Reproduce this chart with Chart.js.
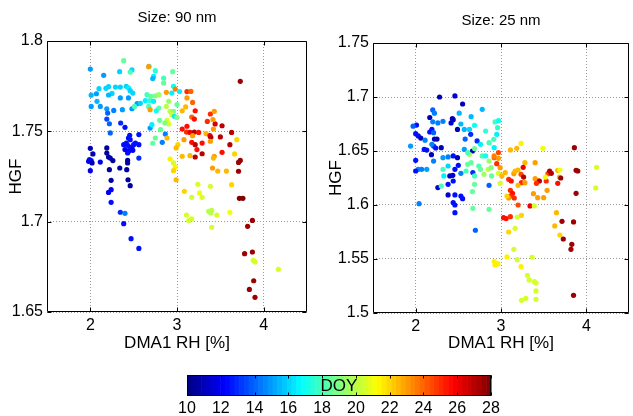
<!DOCTYPE html>
<html>
<head>
<meta charset="utf-8">
<script src="https://cdn.jsdelivr.net/npm/chart.js@4.4.1/dist/chart.umd.min.js"></script>
<style>
body { margin: 0; background: #fff; width: 633px; height: 416px; position: relative; overflow: hidden; }
canvas { position: absolute; }
</style>
</head>
<body>
<canvas id="g90" width="316" height="360" style="left:0;top:0"></canvas>
<canvas id="g25" width="313" height="360" style="left:320px;top:0"></canvas>
<canvas id="cbar" width="340" height="56" style="left:170px;top:360px"></canvas>
<script>
// ---- data ----
const xTicks = [2, 3, 4];
const yTicks90 = [1.65, 1.7, 1.75, 1.8];
const yTicks25 = [1.5, 1.55, 1.6, 1.65, 1.7, 1.75];
const doyTicks = [10, 12, 14, 16, 18, 20, 22, 24, 26, 28];

// Size: 90 nm
const x90 = [
  2.00, 2.154, 2.385, 2.338, 2.48, 2.46, 2.677, 2.673, 2.75, 2.73, 2.72, 2.846, 2.846, 2.95, 2.96, 2.98, 2.877, 3.03, 2.94, 3.115,
  3.16, 3.115, 3.18, 2.01, 2.07, 2.10, 2.18, 2.21, 2.25, 2.21, 2.01, 2.115, 2.077, 2.29, 2.346, 2.415, 2.44, 2.46, 2.49, 2.44,
  2.346, 2.27, 2.19, 2.20, 2.37, 2.48, 2.54, 2.577, 2.635, 2.685, 2.51, 2.19, 2.22, 2.23, 2.654, 2.70, 2.75, 2.79, 2.73, 2.673,
  2.69, 2.79, 2.76, 2.877, 2.904, 2.92, 2.96, 3.00, 2.94, 2.97, 3.00, 2.885, 2.904, 2.86, 2.80, 2.69, 2.71, 2.81, 2.75, 2.72,
  2.83, 2.865, 2.885, 2.00, 2.03, 1.99, 2.01, 1.98, 2.02, 2.00, 2.115, 2.19, 2.19, 2.21, 2.23, 2.26, 2.22, 2.24, 2.21, 2.24,
  2.24, 2.34, 2.40, 2.35, 2.43, 2.43, 2.435, 2.46, 2.42, 2.454, 2.44, 2.46, 2.415, 2.43, 2.454, 2.48, 2.50, 2.47, 2.44, 2.43,
  2.49, 2.385, 2.40, 2.52, 2.56, 2.56, 2.56, 2.346, 2.40, 2.385, 2.47, 2.56, 3.73, 3.06, 3.10, 3.21, 3.17, 3.20, 3.115, 3.06,
  3.11, 3.15, 3.20, 3.18, 3.25, 3.17, 3.21, 3.23, 3.29, 3.08, 3.01, 2.99, 3.06, 3.15, 3.21, 3.29, 3.385, 3.43, 3.44, 3.415,
  3.35, 3.335, 3.38, 3.39, 3.385, 3.50, 3.52, 3.42, 3.63, 3.69, 3.61, 3.52, 3.43, 3.42, 3.41, 3.47, 3.57, 3.665, 3.71, 3.73,
  3.71, 3.63, 3.72, 3.76, 2.92, 2.96, 2.98, 2.96, 2.99, 3.085, 3.24, 3.17, 3.26, 3.29, 3.385, 3.365, 3.39, 3.40, 3.46, 3.11,
  3.135, 3.17, 3.40, 3.61, 3.87, 3.815, 3.78, 3.87, 3.88, 3.90, 4.17, 3.885, 3.835, 3.90
];
const y90 = [
  1.7845, 1.781, 1.7891, 1.783, 1.7841, 1.7828, 1.786, 1.7858, 1.7836, 1.7804, 1.7792, 1.7795, 1.7768, 1.783, 1.7749, 1.7734, 1.7716, 1.772, 1.7712, 1.772,
  1.7721, 1.7685, 1.766, 1.770, 1.7708, 1.7736, 1.7738, 1.7747, 1.771, 1.7701, 1.7638, 1.7638, 1.7666, 1.7745, 1.7745, 1.7749, 1.774, 1.7725, 1.7712, 1.7685,
  1.7685, 1.7616, 1.7625, 1.7601, 1.762, 1.7625, 1.7653, 1.7655, 1.767, 1.767, 1.7638, 1.7568, 1.7542, 1.7491, 1.7703, 1.7694, 1.7697, 1.7703, 1.7666, 1.7638,
  1.762, 1.7629, 1.7614, 1.7638, 1.7666, 1.7611, 1.7611, 1.7648, 1.7592, 1.7583, 1.7577, 1.7561, 1.7541, 1.7546, 1.7561, 1.7518, 1.7537, 1.7509, 1.7463, 1.7434,
  1.7439, 1.7485, 1.7463, 1.7406, 1.7375, 1.7343, 1.7338, 1.7334, 1.7325, 1.7282, 1.733, 1.7408, 1.738, 1.7358, 1.7352, 1.7338, 1.7288, 1.7229, 1.7162, 1.7177,
  1.7107, 1.7297, 1.7522, 1.7546, 1.734, 1.7325, 1.7232, 1.7199, 1.7288, 1.7478, 1.7463, 1.7454, 1.7435, 1.7423, 1.7413, 1.7408, 1.7426, 1.7399, 1.7389, 1.738,
  1.7395, 1.7426, 1.7399, 1.7435, 1.7482, 1.7426, 1.7352, 1.7052, 1.7046, 1.6989, 1.6906, 1.6852, 1.7777, 1.7614, 1.7635, 1.7614, 1.7579, 1.7568, 1.7528, 1.7513,
  1.7496, 1.7494, 1.7496, 1.7476, 1.7494, 1.7439, 1.7426, 1.7399, 1.7435, 1.7454, 1.7426, 1.7408, 1.7362, 1.7365, 1.7358, 1.7376, 1.7596, 1.7611, 1.7541, 1.7565,
  1.7555, 1.7487, 1.7476, 1.7467, 1.7445, 1.7469, 1.7531, 1.7513, 1.7494, 1.7454, 1.7426, 1.7384, 1.7362, 1.7352, 1.7297, 1.728, 1.728, 1.7375, 1.7328, 1.7339,
  1.7279, 1.7205, 1.7129, 1.7129, 1.7347, 1.7325, 1.7303, 1.7282, 1.7232, 1.7168, 1.7207, 1.7135, 1.7159, 1.7135, 1.7196, 1.7057, 1.7048, 1.7063, 1.7037, 1.7037,
  1.7006, 1.7015, 1.6969, 1.7052, 1.7007, 1.6974, 1.6823, 1.6832, 1.6786, 1.6777, 1.6736, 1.6673, 1.6625, 1.6581
];
const doy90 = [
  15, 15, 18.5, 16, 16, 18, 16.5, 23, 17.5, 16.5, 15.5, 18, 18.5, 18.5, 17, 23.5, 23, 16.5, 16.5, 25,
  24, 23, 24, 15.5, 15, 16, 16, 16, 16, 15.5, 15, 15, 15.5, 16, 16, 16, 16.5, 16, 16, 15,
  15, 14.5, 15, 14, 15, 15, 15, 16, 16.5, 17.5, 18, 13.5, 14, 14, 18, 18.5, 19, 19.5, 16.5, 18,
  23, 18.5, 17, 20, 19.5, 20, 19, 18.5, 20.5, 16.5, 19, 20.5, 20.5, 19, 18.5, 15, 16.5, 18.5, 18.5, 18.5,
  14.5, 14.5, 22.5, 11, 11, 12.5, 12.5, 12, 11, 12, 12, 10.5, 10.5, 10.5, 11, 10.5, 10.5, 10.5, 12, 12,
  12.5, 10.5, 12.5, 13, 10.5, 10.5, 10.5, 10.5, 10.5, 12.5, 12.5, 12.5, 12.5, 12.5, 12.5, 12, 12.5, 12.5, 12, 12.5,
  12, 12.5, 12, 12.5, 12.5, 12.5, 13, 13, 14.5, 12.5, 12.5, 12.5, 27.5, 22.5, 22.5, 25.5, 24, 25.5, 25.5, 25.5,
  25, 26, 27, 23, 25.5, 25.5, 27, 25.5, 25.5, 23, 22, 22.5, 22.5, 22.5, 27, 27, 25, 23, 26.5, 23,
  25, 22.5, 26, 27, 23, 27, 27, 23, 27, 22, 27, 25.5, 23, 22.5, 23, 22.5, 22.5, 22, 27.5, 27.5,
  27.5, 22, 28, 28, 21.5, 20.5, 21.5, 22, 22.5, 22, 20.5, 20.5, 21, 20.5, 20.5, 20, 20, 20, 20.5, 20.5,
  20.5, 20.5, 20.5, 21, 27.5, 27.5, 27.5, 27.5, 20.5, 20.5, 20.5, 27.5, 27.5, 27.5
];

// Size: 25 nm
const x25 = [
  2.28, 2.46, 2.55, 2.20, 2.22, 2.165, 2.43, 2.44, 2.415, 2.01, 1.97, 2.20, 2.26, 2.32, 2.19, 2.165, 2.21, 2.00, 2.03, 2.06,
  2.11, 2.22, 2.25, 2.21, 2.19, 2.235, 2.30, 2.49, 2.58, 2.645, 2.665, 2.72, 1.94, 2.10, 2.13, 2.185, 2.00, 2.03, 2.00, 2.07,
  2.13, 2.21, 2.32, 2.38, 2.44, 2.49, 2.50, 2.46, 2.40, 2.435, 2.53, 2.44, 2.38, 2.26, 2.38, 2.46, 2.44, 2.46, 2.46, 2.53,
  2.55, 2.04, 2.70, 2.67, 2.78, 2.65, 2.51, 2.53, 2.57, 2.63, 2.69, 2.82, 2.93, 2.97, 2.96, 2.95, 2.915, 2.86, 2.76, 2.92,
  2.69, 2.63, 2.57, 2.61, 2.65, 2.61, 2.59, 2.32, 2.33, 2.30, 2.38, 2.69, 2.69, 2.665, 2.74, 2.76, 2.80, 2.86, 2.85, 2.89,
  2.885, 2.97, 2.99, 2.86, 2.67, 2.86, 2.78, 2.82, 2.99, 2.92, 2.97, 2.95, 2.97, 2.92, 3.11, 3.185, 3.235, 3.28, 3.40, 3.49,
  3.01, 3.05, 3.09, 3.12, 3.15, 3.165, 3.20, 3.235, 3.265, 3.24, 3.20, 3.28, 3.11, 3.135, 3.11, 3.155, 3.09, 3.07, 3.26, 3.40,
  3.43, 3.45, 3.415, 3.38, 3.43, 3.50, 3.53, 3.55, 3.54, 3.57, 3.59, 3.665, 3.685, 3.70, 3.665, 3.69, 3.52, 3.88, 3.90, 3.86,
  3.88, 4.12, 4.11, 3.34, 3.39, 3.20, 3.03, 3.06, 3.11, 3.19, 3.24, 3.09, 3.165, 3.15, 3.07, 3.19, 3.235, 3.365, 3.31, 3.33,
  3.39, 3.41, 3.41, 3.41, 3.24, 3.29, 2.92, 2.93, 2.965, 3.65, 3.63, 3.69, 3.715, 3.73, 3.85, 3.83, 3.82, 3.85
];
const y25 = [
  1.700, 1.701, 1.6935, 1.688, 1.685, 1.681, 1.680, 1.679, 1.676, 1.674, 1.673, 1.677, 1.676, 1.6775, 1.670, 1.6676, 1.667, 1.666, 1.664, 1.662,
  1.660, 1.661, 1.661, 1.6546, 1.6562, 1.6528, 1.6531, 1.670, 1.661, 1.6654, 1.650, 1.6593, 1.6546, 1.6515, 1.6509, 1.6466, 1.6414, 1.633, 1.6315, 1.633,
  1.633, 1.6407, 1.6438, 1.6445, 1.6454, 1.6438, 1.6367, 1.633, 1.6269, 1.6275, 1.6293, 1.6222, 1.6191, 1.6161, 1.6093, 1.6093, 1.6022, 1.600, 1.5929, 1.6083,
  1.6059, 1.6012, 1.5766, 1.630, 1.6886, 1.6818, 1.685, 1.675, 1.670, 1.670, 1.6738, 1.6685, 1.6769, 1.6781, 1.6716, 1.6654, 1.6608, 1.6577, 1.6562, 1.6531,
  1.6522, 1.6469, 1.6515, 1.6485, 1.6392, 1.6377, 1.6315, 1.633, 1.6269, 1.6176, 1.6361, 1.6269, 1.6191, 1.6124, 1.6361, 1.633, 1.6284, 1.6407, 1.633, 1.6269,
  1.6346, 1.6293, 1.6201, 1.6182, 1.5969, 1.596, 1.6454, 1.6454, 1.6346, 1.6438, 1.6432, 1.6383, 1.6485, 1.6454, 1.651, 1.6525, 1.657, 1.6392, 1.6392, 1.6525,
  1.6269, 1.630, 1.6238, 1.6222, 1.629, 1.6315, 1.6324, 1.6284, 1.6259, 1.6207, 1.6182, 1.6207, 1.6136, 1.6108, 1.6083, 1.6065, 1.6065, 1.6083, 1.6349, 1.6244,
  1.6229, 1.6222, 1.6201, 1.6105, 1.6068, 1.6068, 1.6222, 1.629, 1.6136, 1.6315, 1.6293, 1.6321, 1.6259, 1.625, 1.6201, 1.6324, 1.6259, 1.6321, 1.6315, 1.6531,
  1.6108, 1.6349, 1.6158, 1.5991, 1.5991, 1.600, 1.5883, 1.5874, 1.5892, 1.5889, 1.5904, 1.575, 1.5784, 1.559, 1.5519, 1.5494, 1.5429, 1.5516, 1.5349, 1.5306,
  1.529, 1.5278, 1.5204, 1.5127, 1.5118, 1.5136, 1.5476, 1.5445, 1.5457, 1.5929, 1.5806, 1.5722, 1.5849, 1.5685, 1.5843, 1.5636, 1.559, 1.5164
];
const doy25 = [
  11, 11.5, 11, 14, 14.5, 11, 11, 11, 11.5, 12.5, 14, 14.5, 14.5, 14.5, 12.5, 12.5, 14, 12.5, 12.5, 11,
  14.5, 11, 11, 13, 14.5, 12.5, 11, 11, 14, 13, 11, 13, 15, 12.5, 12.5, 11, 12.5, 14.5, 12.5, 14.5,
  15, 14.5, 15, 14.5, 12.5, 11, 12.5, 12.5, 11, 11.5, 14.5, 12.5, 12.5, 11.5, 11.5, 12.5, 12.5, 12.5, 12.5, 12.5,
  12.5, 14.5, 14, 13, 15.5, 15.5, 15.5, 15.5, 15.5, 16, 17, 17.5, 18, 17, 17.5, 16.5, 18, 18, 16.5, 16.5,
  18.5, 19.5, 15, 18, 18.5, 18.5, 18, 18, 16.5, 18, 16, 18, 18.5, 18.5, 18, 18.5, 19.5, 19.5, 20, 18.5,
  19, 20.5, 20.5, 14, 18.5, 18.5, 18, 17, 23, 24, 23, 25, 24.5, 23.5, 22.5, 22.5, 21.5, 22.5, 23, 21,
  22.5, 22.5, 25, 25.5, 23, 22.5, 22.5, 24.5, 27, 25, 22.5, 23, 25, 25.5, 25, 25, 23, 22, 26, 23,
  23, 27, 25, 23, 23, 23, 25, 24.5, 23, 27, 27, 22.5, 22.5, 27.5, 25.5, 21, 21, 27.5, 27.5, 27.5,
  27.5, 20.5, 20.5, 26, 20.5, 24.5, 25.5, 25.5, 25, 20.5, 22, 22, 20.5, 20.5, 21.5, 20.5, 21.5, 20.5, 20.5, 20.5,
  20.5, 20.5, 20.5, 20.5, 20.5, 20.5, 21.5, 21.5, 21.5, 22.5, 22.5, 22, 27.5, 27.5, 27.5, 27.5, 27.5, 27.5
];

const doyMin = 10, doyMax = 28;

// matlab jet colormap
function jet(v) {
  const t = Math.max(0, Math.min(1, (v - doyMin) / (doyMax - doyMin)));
  const c = f => Math.round(255 * Math.max(0, Math.min(1, f)));
  return 'rgb(' + c(1.5 - Math.abs(4 * t - 3)) + ',' + c(1.5 - Math.abs(4 * t - 2)) + ',' + c(1.5 - Math.abs(4 * t - 1)) + ')';
}

Chart.defaults.font.family = '"Liberation Sans", Arial, sans-serif';
Chart.defaults.color = '#000';

// black box with inward ticks on all four sides
const boxPlugin = {
  id: 'box',
  afterDatasetsDraw(chart) {
    const { ctx, chartArea: a, scales: { x, y } } = chart;
    const L = Math.round(a.left) + 0.5, R = Math.round(a.right) - 0.5;
    const T = Math.round(a.top) + 0.5, B = Math.round(a.bottom) - 0.5;
    ctx.save();
    ctx.strokeStyle = '#000';
    ctx.lineWidth = 1;
    ctx.beginPath();
    x.ticks.forEach(t => {
      const p = Math.round(x.getPixelForValue(t.value)) + 0.5;
      ctx.moveTo(p, B); ctx.lineTo(p, B - 4);
      ctx.moveTo(p, T); ctx.lineTo(p, T + 4);
    });
    y.ticks.forEach(t => {
      const p = Math.round(y.getPixelForValue(t.value)) + 0.5;
      ctx.moveTo(L, p); ctx.lineTo(L + 4, p);
      ctx.moveTo(R, p); ctx.lineTo(R - 4, p);
    });
    ctx.rect(L, T, R - L, B - T);
    ctx.stroke();
    ctx.restore();
  }
};

function makePanel(id, title, xs, ys, doys, yMin, yMax, yTicks, lay) {
  const pts = xs.map((v, i) => ({ x: v, y: ys[i] }));
  return new Chart(document.getElementById(id), {
    type: 'scatter',
    data: {
      datasets: [{
        data: pts,
        pointRadius: 2.6,
        pointBorderWidth: 0,
        pointBackgroundColor: doys.map(jet)
      }]
    },
    options: {
      responsive: false,
      animation: false,
      layout: { padding: { right: lay.right, left: 0, top: 0, bottom: 0 } },
      plugins: {
        legend: { display: false },
        tooltip: { enabled: false },
        title: {
          display: true,
          fullSize: false,
          text: title,
          font: { size: 15, weight: 'normal' },
          padding: { top: lay.titleTop, bottom: lay.titleBottom }
        }
      },
      scales: {
        x: {
          type: 'linear',
          min: 1.5,
          max: 4.5,
          afterBuildTicks: s => { s.ticks = xTicks.map(v => ({ value: v })); },
          afterFit: s => { s.height = lay.xh; },
          ticks: { font: { size: 16 }, padding: 4, callback: v => String(v) },
          grid: { color: '#9a9a9a', drawTicks: false },
          border: { display: false, dash: [1, 2] },
          title: { display: true, text: 'DMA1 RH [%]', font: { size: 17 }, padding: { top: 0, bottom: 6 } }
        },
        y: {
          type: 'linear',
          min: yMin,
          max: yMax,
          afterBuildTicks: s => { s.ticks = yTicks.map(v => ({ value: v })); },
          afterFit: s => { s.width = lay.yw; },
          ticks: { font: { size: 16 }, padding: 4, callback: v => String(v) },
          grid: { color: '#9a9a9a', drawTicks: false },
          border: { display: false, dash: [1, 2] },
          title: { display: true, text: 'HGF', font: { size: 17 }, padding: { top: 6, bottom: 0 } }
        }
      }
    },
    plugins: [boxPlugin]
  });
}

makePanel('g90', 'Size: 90 nm', x90, y90, doy90, 1.65, 1.8, yTicks90,
  { right: 9, yw: 47, xh: 48, titleTop: 8.5, titleBottom: 14.5 });
makePanel('g25', 'Size: 25 nm', x25, y25, doy25, 1.5, 1.75, yTicks25,
  { right: 1, yw: 53, xh: 47, titleTop: 11.5, titleBottom: 13.5 });

// colorbar
const cbarPlugin = {
  id: 'cbar',
  beforeDatasetsDraw(chart) {
    const { ctx, chartArea: a, scales: { x } } = chart;
    const n = 64;
    ctx.save();
    for (let i = 0; i < n; i++) {
      const v0 = doyMin + (doyMax - doyMin) * i / n;
      const v1 = doyMin + (doyMax - doyMin) * (i + 1) / n;
      const p0 = x.getPixelForValue(v0), p1 = x.getPixelForValue(v1);
      ctx.fillStyle = jet((v0 + v1) / 2);
      ctx.fillRect(p0, a.top, p1 - p0 + 0.6, a.bottom - a.top);
    }
    const L = Math.round(a.left) + 0.5, R = Math.round(a.right) - 0.5;
    const T = Math.round(a.top) + 0.5, B = Math.round(a.bottom) - 0.5;
    ctx.strokeStyle = '#000';
    ctx.lineWidth = 1;
    ctx.beginPath();
    x.ticks.forEach(t => {
      const p = Math.round(x.getPixelForValue(t.value)) + 0.5;
      ctx.moveTo(p, B); ctx.lineTo(p, B - 3);
      ctx.moveTo(p, T); ctx.lineTo(p, T + 3);
    });
    ctx.rect(L, T, R - L, B - T);
    ctx.stroke();
    ctx.fillStyle = '#000';
    ctx.font = '17px "Liberation Sans", Arial, sans-serif';
    ctx.textAlign = 'center';
    ctx.textBaseline = 'middle';
    ctx.fillText('DOY', (a.left + a.right) / 2, (a.top + a.bottom) / 2 + 1);
    ctx.restore();
  }
};

new Chart(document.getElementById('cbar'), {
  type: 'scatter',
  data: { datasets: [{ data: [] }] },
  options: {
    responsive: false,
    animation: false,
    layout: { padding: { top: 15, left: 17, right: 19, bottom: 0 } },
    plugins: { legend: { display: false }, tooltip: { enabled: false } },
    scales: {
      x: {
        type: 'linear',
        min: doyMin,
        max: doyMax,
        afterBuildTicks: s => { s.ticks = doyTicks.map(v => ({ value: v })); },
        afterFit: s => { s.height = 20; },
        ticks: { font: { size: 16 }, padding: 3 },
        grid: { display: false, drawTicks: false },
        border: { display: false }
      },
      y: { display: false, min: 0, max: 1 }
    }
  },
  plugins: [cbarPlugin]
});
</script>
</body>
</html>
